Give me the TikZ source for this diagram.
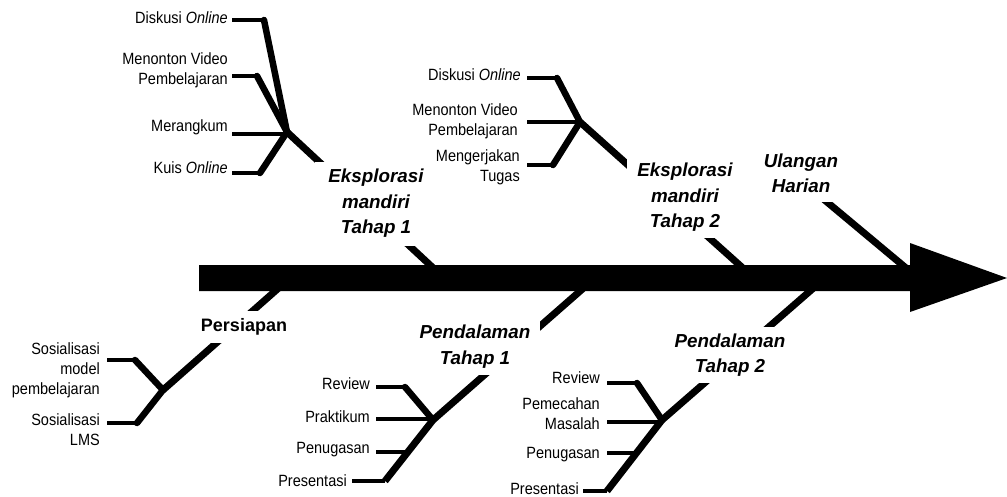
\documentclass[tikz,border=0pt]{standalone}
\usepackage{fontspec}
\setmainfont{Liberation Sans}
\newfontfamily\itemfont[FakeStretch=0.89]{Liberation Sans}
\begin{document}
\begin{tikzpicture}[x=1pt,y=-1pt,
  item/.style={anchor=east, align=right, inner sep=0pt, font=\itemfont\fontsize{16.3}{20}\selectfont},
  lab/.style={align=center, fill=white, inner sep=0pt, font=\fontsize{18.8}{25.5}\selectfont\bfseries\itshape},
  plainlab/.style={lab, font=\fontsize{18}{24}\selectfont\bfseries},
  twig/.style={line width=3.5pt},
  branch/.style={line width=6.5pt, line cap=round},
  bone/.style={line width=7pt}]
\useasboundingbox (0,0) rectangle (1007,496);

% hubs and corners
\coordinate (h1) at (287,132);
\coordinate (h2) at (580,122);
\coordinate (hp) at (163,390);
\coordinate (hq) at (433,420);
\coordinate (hr) at (662,420);
\coordinate (e1) at (385,481);
\coordinate (e2) at (607,491);
% points on the spine
\coordinate (s1) at (444,278);
\coordinate (s2) at (754,278);
\coordinate (s3) at (918,278);
\coordinate (sp) at (290,278);
\coordinate (sq) at (595,278);
\coordinate (sr) at (825,278);
\coordinate (u0) at (815,192);

% main bones
\draw[bone] (h1) -- (s1);
\draw[bone] (h2) -- (s2);
\draw[bone] (u0) -- (s3);
\draw[bone] (hp) -- (sp);
\draw[bone, line join=miter] (e1) -- (hq) -- (sq);
\draw[bone, line join=miter] (e2) -- (hr) -- (sr);

% spine with arrow head
\fill (199,265) -- (910,265) -- (910,243) -- (1007,278) -- (910,312) -- (910,291) -- (199,291) -- cycle;

% labels of the main bones
\node[lab, minimum width=122, minimum height=84] (emt1) at (376,203.5) {Eksplorasi\\mandiri\\Tahap 1};
\node[lab, minimum width=116, minimum height=81] (emt2) at (685,197.5) {Eksplorasi\\mandiri\\Tahap 2};
\node[lab, minimum width=98, minimum height=56] (uh) at (801,173.5) {Ulangan\\Harian};
\node[plainlab, minimum width=108, minimum height=32] (pers) at (244,327) {Persiapan};
\node[lab, minimum width=130, minimum height=57] (pt1) at (475,346.5) {Pendalaman\\Tahap 1};
\node[lab, minimum width=140, minimum height=56] (pt2) at (730,355) {Pendalaman\\Tahap 2};

% group: Eksplorasi mandiri Tahap 1
\node[item] (a1) at (228,18) {Diskusi \textit{Online}};
\node[item] (a2) at (228,70) {Menonton Video\\Pembelajaran};
\node[item] (a3) at (228,127) {Merangkum};
\node[item] (a4) at (228,168) {Kuis \textit{Online}};
\coordinate (c1) at (264,20);
\coordinate (c2) at (257,76);
\coordinate (c3) at (287,134);
\coordinate (c4) at (260,173);
\draw[twig, shorten <=4pt] (a1.east |- c1) -- (c1);
\draw[twig, shorten <=4pt] (a2.east |- c2) -- (c2);
\draw[twig, shorten <=4pt] (a3.east |- c3) -- (c3);
\draw[twig, shorten <=4pt] (a4.east |- c4) -- (c4);
\draw[branch] (c1) -- (h1);
\draw[branch] (c2) -- (h1);
\draw[branch] (c4) -- (h1);

% group: Eksplorasi mandiri Tahap 2
\node[item] (b1) at (521,75) {Diskusi \textit{Online}};
\node[item] (b2) at (518,121) {Menonton Video\\Pembelajaran};
\node[item] (b3) at (520,167) {Mengerjakan\\Tugas};
\coordinate (c5) at (557,78);
\coordinate (c6) at (553,165);
\draw[twig] (527,78) -- (c5);
\draw[twig] (527,122) -- (h2);
\draw[twig] (527,165) -- (c6);
\draw[branch] (c5) -- (h2);
\draw[branch] (c6) -- (h2);

% group: Persiapan
\node[item] (p1) at (100,370) {Sosialisasi\\model\\pembelajaran};
\node[item] (p2) at (100,430) {Sosialisasi\\LMS};
\coordinate (c7) at (135,360);
\coordinate (c8) at (137,423);
\draw[twig, shorten <=7pt] (p1.east |- c7) -- (c7);
\draw[twig, shorten <=7pt] (p2.east |- c8) -- (c8);
\draw[branch] (c7) -- (hp);
\draw[branch] (c8) -- (hp);

% group: Pendalaman Tahap 1
\node[item] (q1) at (370,384) {Review};
\node[item] (q2) at (370,417) {Praktikum};
\node[item] (q3) at (370,450) {Penugasan};
\node[item] (q4) at (347,481) {Presentasi};
\coordinate (c9) at (405,387);
\coordinate (c10) at (433,419);
\coordinate (c11) at (408,452);
\draw[twig, shorten <=6pt] (q1.east |- c9) -- (c9);
\draw[twig, shorten <=6pt] (q2.east |- c10) -- (c10);
\draw[twig, shorten <=6pt] (q3.east |- c11) -- (c11);
\draw[twig, shorten <=5pt] (q4.east |- e1) -- (e1);
\draw[branch] (c9) -- (hq);

% group: Pendalaman Tahap 2
\node[item] (r1) at (600,378) {Review};
\node[item] (r2) at (600,414) {Pemecahan\\Masalah};
\node[item] (r3) at (600,455) {Penugasan};
\node[item] (r4) at (579,488.5) {Presentasi};
\coordinate (c12) at (637,383);
\coordinate (c13) at (662,422);
\coordinate (c14) at (636,453);
\draw[twig, shorten <=7pt] (r1.east |- c12) -- (c12);
\draw[twig, shorten <=7pt] (r2.east |- c13) -- (c13);
\draw[twig, shorten <=7pt] (r3.east |- c14) -- (c14);
\draw[twig, shorten <=4pt] (r4.east |- e2) -- (e2);
\draw[branch] (c12) -- (hr);
\end{tikzpicture}
\end{document}
